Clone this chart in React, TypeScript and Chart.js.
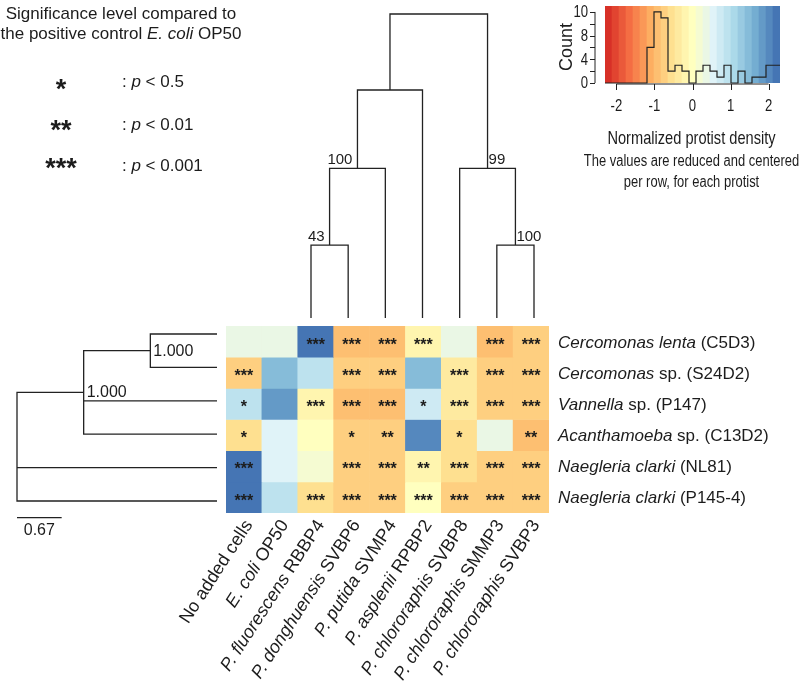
import React, { useEffect, useRef } from 'react';
import { Chart, registerables } from 'chart.js';
Chart.register(...registerables);

const W = 800;
const H = 695;
const FONT = '"Liberation Sans", Arial, Helvetica, sans-serif';
const INK = '#1c1c1c';

// ---------- data ----------
const columnItalic = ['', 'E. coli', 'P. fluorescens', 'P. donghuensis', 'P. putida', 'P. asplenii', 'P. chlororaphis', 'P. chlororaphis', 'P. chlororaphis'];
const columnPlain = ['No added cells', ' OP50', ' RBBP4', ' SVBP6', ' SVMP4', ' RPBP2', ' SVBP8', ' SMMP3', ' SVBP3'];
const rowItalic = ['Cercomonas lenta', 'Cercomonas', 'Vannella', 'Acanthamoeba', 'Naegleria clarki', 'Naegleria clarki'];
const rowPlain = [' (C5D3)', ' sp. (S24D2)', ' sp. (P147)', ' sp. (C13D2)', ' (NL81)', ' (P145-4)'];

// normalized protist density (row z-scores)
const densC5D3 = [0.37, 0.37, 2.21, -0.92, -0.92, -0.18, 0.37, -0.92, -0.74];
const densS24D2 = [-0.74, 1.47, 0.92, -0.74, -0.74, 1.47, -0.37, -0.74, -0.74];
const densP147 = [0.92, 1.84, -0.18, -0.92, -0.92, 0.74, -0.37, -0.74, -0.74];
const densC13D2 = [-0.55, 0.55, 0.0, -0.74, -0.74, 2.02, -0.55, 0.37, -0.92];
const densNL81 = [2.21, 0.55, 0.18, -0.74, -0.74, -0.18, -0.55, -0.74, -0.74];
const densP1454 = [2.21, 0.92, -0.55, -0.74, -0.74, 0.0, -0.74, -0.74, -0.74];
const densityRows = [densC5D3, densS24D2, densP147, densC13D2, densNL81, densP1454];

// significance vs E. coli OP50
const sigC5D3 = ['', '', '***', '***', '***', '***', '', '***', '***'];
const sigS24D2 = ['***', '', '', '***', '***', '', '***', '***', '***'];
const sigP147 = ['*', '', '***', '***', '***', '*', '***', '***', '***'];
const sigC13D2 = ['*', '', '', '*', '**', '', '*', '', '**'];
const sigNL81 = ['***', '', '', '***', '***', '**', '***', '***', '***'];
const sigP1454 = ['***', '', '***', '***', '***', '***', '***', '***', '***'];
const sigRows = [sigC5D3, sigS24D2, sigP147, sigC13D2, sigNL81, sigP1454];

const sigSymbols = ['*', '**', '***'];
const sigThresholds = ['0.5', '0.01', '0.001'];

// colour key histogram
const keyMin = -2.3;
const keyMax = 2.3;
const keyBinCounts = [0, 0, 0, 0, 0, 0, 0, 6, 12, 11, 2, 3, 2, 0, 2, 3, 2, 1, 3, 0, 2, 0, 1, 1, 3];
const keyXTicks = [-2, -1, 0, 1, 2];
const keyYTicks = [0, 2, 4, 6, 8, 10, 12];
const keyYTickLabels = ['0', '', '4', '', '8', '', '10'];
const keyYMax = 13;

// column dendrogram (clustered columns 3..9), R-style merge matrix
const colMerge = [[-1, -2], [1, -3], [2, -4], [-6, -7], [-5, 4], [3, 5]];
const colHeights = [0.96, 1.97, 3.0, 0.96, 1.97, 4.0];
const colSupport = ['43', '100', '', '100', '99', ''];

// row (protist) tree
const rowNodeChildren = [[-1, -2], [1, -3, -4], [2, -5, -6]];
const rowNodeDepth = [2.0, 1.0, 0.0];
const rowLeafDepth = 3.0;
const rowSupport = ['1.000', '1.000', ''];
const rowScaleBar = 0.67;

// ---------- colours ----------
const RDYLBU = ['#d73027', '#f46d43', '#fdae61', '#fee090', '#ffffbf', '#e0f3f8', '#abd9e9', '#74add1', '#4575b4'];
function hexToRgb(h: string) {
  return [parseInt(h.slice(1, 3), 16), parseInt(h.slice(3, 5), 16), parseInt(h.slice(5, 7), 16)];
}
function rampColor(t: number) {
  const n = RDYLBU.length - 1;
  const p = Math.min(Math.max(t, 0), 1) * n;
  const i = Math.min(Math.floor(p), n - 1);
  const f = p - i;
  const a = hexToRgb(RDYLBU[i]);
  const b = hexToRgb(RDYLBU[i + 1]);
  const c = a.map((v, j) => Math.round(v + (b[j] - v) * f));
  return `rgb(${c[0]},${c[1]},${c[2]})`;
}
const binW = (keyMax - keyMin) / keyBinCounts.length;
const keyPalette = keyBinCounts.map((_, k) => rampColor(k / (keyBinCounts.length - 1)));
function cellColor(v: number) {
  const k = Math.min(keyBinCounts.length - 1, Math.max(0, Math.floor((v - keyMin) / binW)));
  return keyPalette[k];
}

// ---------- text helpers ----------
function drawParts(ctx: CanvasRenderingContext2D, parts: [string, boolean][], x: number, y: number, size: number, align: 'left' | 'right' | 'center') {
  const fonts = parts.map(([, it]) => `${it ? 'italic ' : ''}${size}px ${FONT}`);
  const widths = parts.map(([t], i) => {
    ctx.font = fonts[i];
    return ctx.measureText(t).width;
  });
  const total = widths.reduce((a, b) => a + b, 0);
  let cx = align === 'left' ? x : align === 'right' ? x - total : x - total / 2;
  ctx.textAlign = 'left';
  parts.forEach(([t], i) => {
    ctx.font = fonts[i];
    ctx.fillText(t, cx, y);
    cx += widths[i];
  });
}
function drawNarrow(ctx: CanvasRenderingContext2D, t: string, x: number, y: number, size: number, sx: number, align: CanvasTextAlign) {
  ctx.save();
  ctx.translate(x, y);
  ctx.scale(sx, 1);
  ctx.font = `${size}px ${FONT}`;
  ctx.textAlign = align;
  ctx.fillText(t, 0, 0);
  ctx.restore();
}

function baseOptions(padding: { left: number; right: number; top: number; bottom: number }) {
  return {
    animation: false as const,
    responsive: false,
    devicePixelRatio: 1,
    events: [] as any[],
    layout: { padding },
    plugins: { legend: { display: false }, tooltip: { enabled: false } },
  };
}

export default function App() {
  const heatRef = useRef<HTMLCanvasElement>(null);
  const colTreeRef = useRef<HTMLCanvasElement>(null);
  const rowTreeRef = useRef<HTMLCanvasElement>(null);
  const keyRef = useRef<HTMLCanvasElement>(null);

  useEffect(() => {
    const charts: Chart[] = [];

    // ---------- heatmap ----------
    const heatPlugin = {
      id: 'heatText',
      afterDatasetsDraw(chart: any) {
        const ctx: CanvasRenderingContext2D = chart.ctx;
        const area = chart.chartArea;
        ctx.save();
        ctx.fillStyle = INK;
        ctx.textBaseline = 'alphabetic';
        densityRows.forEach((row, r) => {
          const meta = chart.getDatasetMeta(r);
          let cy = 0;
          meta.data.forEach((el: any, c: number) => {
            const p = el.getProps(['x', 'y', 'base'], true);
            cy = (p.y + p.base) / 2;
            const s = sigRows[r][c];
            if (s) {
              ctx.font = `bold 16px ${FONT}`;
              ctx.textAlign = 'center';
              ctx.fillText(s, p.x, cy + 0.575 * 16 - 1);
            }
          });
          drawParts(ctx, [[rowItalic[r], true], [rowPlain[r], false]], area.right + 9, cy + 6, 17, 'left');
        });
        // column labels
        const meta0 = chart.getDatasetMeta(0);
        const ang = (57 * Math.PI) / 180;
        meta0.data.forEach((el: any, c: number) => {
          const x = el.getProps(['x'], true).x;
          ctx.save();
          ctx.translate(x + 5, area.bottom + 9);
          ctx.rotate(-ang);
          ctx.textBaseline = 'middle';
          const parts: [string, boolean][] = columnItalic[c] ? [[columnItalic[c], true], [columnPlain[c], false]] : [[columnPlain[c], false]];
          drawParts(ctx, parts, 0, 0, 18, 'right');
          ctx.restore();
        });
        // significance legend
        ctx.textBaseline = 'alphabetic';
        ctx.font = `17px ${FONT}`;
        ctx.textAlign = 'center';
        ctx.fillText('Significance level compared to', 121, 19);
        drawParts(ctx, [['the positive control ', false], ['E. coli', true], [' OP50', false]], 121, 39, 17, 'center');
        const symY = [85, 126, 164];
        const txtY = [87, 130, 171];
        sigSymbols.forEach((s, i) => {
          ctx.font = `bold 27px ${FONT}`;
          ctx.textAlign = 'center';
          ctx.fillText(s, 61, symY[i] + 0.575 * 27 - 3);
          drawParts(ctx, [[': ', false], ['p', true], [' < ' + sigThresholds[i], false]], 122, txtY[i], 17, 'left');
        });
        ctx.restore();
      },
    };
    if (heatRef.current) {
      charts.push(
        new Chart(heatRef.current, {
          type: 'bar',
          data: {
            labels: columnPlain.map((p, i) => columnItalic[i] + p),
            datasets: densityRows.map((vals, r) => ({
              label: rowItalic[r] + rowPlain[r],
              data: vals.map(() => 1),
              backgroundColor: vals.map(cellColor),
              borderWidth: 0,
              barPercentage: 1,
              categoryPercentage: 1,
            })),
          },
          options: {
            ...baseOptions({ left: 226, right: 251, top: 326, bottom: 182 }),
            scales: {
              x: { display: false, stacked: true },
              y: { display: false, stacked: true, min: 0, max: densityRows.length, reverse: true },
            },
          } as any,
          plugins: [heatPlugin],
        })
      );
    }

    // ---------- column dendrogram ----------
    const colLeafCount = colMerge.length + 1;
    const colNodeX: number[] = [];
    const posOf = (id: number) => (id < 0 ? { x: -id - 1, h: 0 } : { x: colNodeX[id - 1], h: colHeights[id - 1] });
    const colPaths = colMerge.map(([a, b], k) => {
      const pa = posOf(a);
      const pb = posOf(b);
      colNodeX[k] = (pa.x + pb.x) / 2;
      return [
        { x: pa.x, y: pa.h },
        { x: pa.x, y: colHeights[k] },
        { x: pb.x, y: colHeights[k] },
        { x: pb.x, y: pb.h },
      ];
    });
    const colParentSide: ('L' | 'R' | '')[] = colMerge.map(() => '');
    colMerge.forEach(([a, b]) => {
      if (a > 0) colParentSide[a - 1] = 'L';
      if (b > 0) colParentSide[b - 1] = 'R';
    });
    const colTreePlugin = {
      id: 'colTreeText',
      afterDatasetsDraw(chart: any) {
        const ctx: CanvasRenderingContext2D = chart.ctx;
        const xs = chart.scales.x;
        const ys = chart.scales.y;
        ctx.save();
        ctx.fillStyle = INK;
        ctx.font = `15px ${FONT}`;
        ctx.textBaseline = 'alphabetic';
        colSupport.forEach((s, k) => {
          if (!s) return;
          const px = xs.getPixelForValue(colNodeX[k]);
          const py = ys.getPixelForValue(colHeights[k]);
          if (colParentSide[k] === 'L') {
            ctx.textAlign = 'right';
            ctx.fillText(s, px - 5, py - 4);
          } else {
            ctx.textAlign = 'left';
            ctx.fillText(s, px + 1, py - 4);
          }
        });
        ctx.restore();
      },
    };
    if (colTreeRef.current) {
      charts.push(
        new Chart(colTreeRef.current, {
          type: 'scatter',
          data: {
            datasets: colPaths.map((pts) => ({
              data: pts,
              showLine: true,
              borderColor: '#222',
              borderWidth: 1.3,
              pointRadius: 0,
              clip: false,
            })),
          },
          options: {
            ...baseOptions({ left: 311, right: 266, top: 14, bottom: 377 }),
            scales: {
              x: { type: 'linear', display: false, min: 0, max: colLeafCount - 1 },
              y: { type: 'linear', display: false, min: 0, max: 4 },
            },
          } as any,
          plugins: [colTreePlugin],
        })
      );
    }

    // ---------- row tree ----------
    const rowNodeY: number[] = [];
    const rowPos = (id: number) => (id < 0 ? { x: rowLeafDepth, y: -id - 1 } : { x: rowNodeDepth[id - 1], y: rowNodeY[id - 1] });
    const rowPaths: { x: number; y: number }[][] = [];
    rowNodeChildren.forEach((ch, k) => {
      const ps = ch.map(rowPos);
      const d = rowNodeDepth[k];
      const first = ps[0];
      const last = ps[ps.length - 1];
      rowNodeY[k] = (first.y + last.y) / 2;
      rowPaths.push([
        { x: first.x, y: first.y },
        { x: d, y: first.y },
        { x: d, y: last.y },
        { x: last.x, y: last.y },
      ]);
      ps.slice(1, -1).forEach((p) => rowPaths.push([{ x: d, y: p.y }, { x: p.x, y: p.y }]));
    });
    const leafCount = rowItalic.length;
    const barY = leafCount - 1 + 0.5;
    rowPaths.push([{ x: 0, y: barY }, { x: rowScaleBar, y: barY }]);
    const rowTreePlugin = {
      id: 'rowTreeText',
      afterDatasetsDraw(chart: any) {
        const ctx: CanvasRenderingContext2D = chart.ctx;
        const xs = chart.scales.x;
        const ys = chart.scales.y;
        ctx.save();
        ctx.fillStyle = INK;
        ctx.font = `16px ${FONT}`;
        ctx.textBaseline = 'alphabetic';
        ctx.textAlign = 'left';
        rowSupport.forEach((s, k) => {
          if (!s) return;
          ctx.fillText(s, xs.getPixelForValue(rowNodeDepth[k]) + 3, ys.getPixelForValue(rowNodeY[k]) + 5);
        });
        ctx.textAlign = 'center';
        ctx.fillText(String(rowScaleBar), xs.getPixelForValue(rowScaleBar / 2), ys.getPixelForValue(barY) + 17);
        ctx.restore();
      },
    };
    if (rowTreeRef.current) {
      charts.push(
        new Chart(rowTreeRef.current, {
          type: 'scatter',
          data: {
            datasets: rowPaths.map((pts) => ({
              data: pts,
              showLine: true,
              borderColor: '#222',
              borderWidth: 1.3,
              pointRadius: 0,
              clip: false,
            })),
          },
          options: {
            ...baseOptions({ left: 17, right: 583, top: 334, bottom: 194 }),
            scales: {
              x: { type: 'linear', display: false, min: 0, max: rowLeafDepth },
              y: { type: 'linear', display: false, min: 0, max: leafCount - 1, reverse: true },
            },
          } as any,
          plugins: [rowTreePlugin],
        })
      );
    }

    // ---------- colour key ----------
    const keyPlugin = {
      id: 'keyText',
      afterDatasetsDraw(chart: any) {
        const ctx: CanvasRenderingContext2D = chart.ctx;
        const xs = chart.scales.x;
        const ys = chart.scales.y;
        const area = chart.chartArea;
        ctx.save();
        ctx.strokeStyle = '#222';
        ctx.fillStyle = INK;
        ctx.lineWidth = 1;
        // y axis
        const ax = area.left - 10;
        ctx.beginPath();
        ctx.moveTo(ax, ys.getPixelForValue(keyYTicks[0]));
        ctx.lineTo(ax, ys.getPixelForValue(keyYTicks[keyYTicks.length - 1]));
        keyYTicks.forEach((v) => {
          const y = Math.round(ys.getPixelForValue(v)) + 0.5;
          ctx.moveTo(ax - 5, y);
          ctx.lineTo(ax, y);
        });
        ctx.stroke();
        ctx.textBaseline = 'middle';
        keyYTicks.forEach((v, i) => {
          if (keyYTickLabels[i]) drawNarrow(ctx, keyYTickLabels[i], ax - 7, ys.getPixelForValue(v) + 1, 16, 0.82, 'right');
        });
        // x axis
        const ay = area.bottom + 1;
        ctx.beginPath();
        ctx.moveTo(xs.getPixelForValue(keyXTicks[0]), ay);
        ctx.lineTo(xs.getPixelForValue(keyXTicks[keyXTicks.length - 1]), ay);
        keyXTicks.forEach((v) => {
          const x = Math.round(xs.getPixelForValue(v)) + 0.5;
          ctx.moveTo(x, ay);
          ctx.lineTo(x, ay + 6);
        });
        ctx.stroke();
        ctx.textBaseline = 'alphabetic';
        keyXTicks.forEach((v) => drawNarrow(ctx, String(v), xs.getPixelForValue(v), 111, 16, 0.82, 'center'));
        // titles
        const cx = (area.left + area.right) / 2 - 1;
        drawNarrow(ctx, 'Normalized protist density', cx, 144, 18.5, 0.79, 'center');
        drawNarrow(ctx, 'The values are reduced and centered', cx, 166, 16, 0.81, 'center');
        drawNarrow(ctx, 'per row, for each protist', cx, 187, 16, 0.81, 'center');
        // Count
        ctx.save();
        ctx.translate(572, 47);
        ctx.rotate(-Math.PI / 2);
        ctx.font = `18px ${FONT}`;
        ctx.textAlign = 'center';
        ctx.fillText('Count', 0, 0);
        ctx.restore();
        ctx.restore();
      },
    };
    if (keyRef.current) {
      const lineData = keyBinCounts.map((c, k) => ({ x: keyMin + k * binW, y: c }));
      lineData.push({ x: keyMax, y: keyBinCounts[keyBinCounts.length - 1] });
      charts.push(
        new Chart(keyRef.current, {
          type: 'bar',
          data: {
            datasets: [
              {
                type: 'line',
                data: lineData,
                stepped: 'after',
                borderColor: '#222',
                borderWidth: 1.2,
                pointRadius: 0,
                fill: false,
                clip: false,
                order: 0,
              } as any,
              {
                type: 'bar',
                data: keyBinCounts.map((_, k) => ({ x: keyMin + (k + 0.5) * binW, y: keyYMax })),
                backgroundColor: keyPalette,
                borderWidth: 0,
                barPercentage: 1,
                categoryPercentage: 1,
                order: 1,
              } as any,
            ],
          },
          options: {
            ...baseOptions({ left: 605, right: 20, top: 6, bottom: 612 }),
            scales: {
              x: { type: 'linear', display: false, min: keyMin, max: keyMax, offset: false },
              y: { type: 'linear', display: false, min: 0, max: keyYMax },
            },
          } as any,
          plugins: [keyPlugin],
        })
      );
    }

    return () => charts.forEach((c) => c.destroy());
  }, []);

  const cs: React.CSSProperties = { position: 'absolute', left: 0, top: 0, width: W, height: H };
  return (
    <div style={{ position: 'absolute', left: 0, top: 0, width: W, height: H, background: '#fff', overflow: 'hidden' }}>
      <canvas ref={keyRef} width={W} height={H} style={cs} />
      <canvas ref={colTreeRef} width={W} height={H} style={cs} />
      <canvas ref={rowTreeRef} width={W} height={H} style={cs} />
      <canvas ref={heatRef} width={W} height={H} style={cs} />
    </div>
  );
}
